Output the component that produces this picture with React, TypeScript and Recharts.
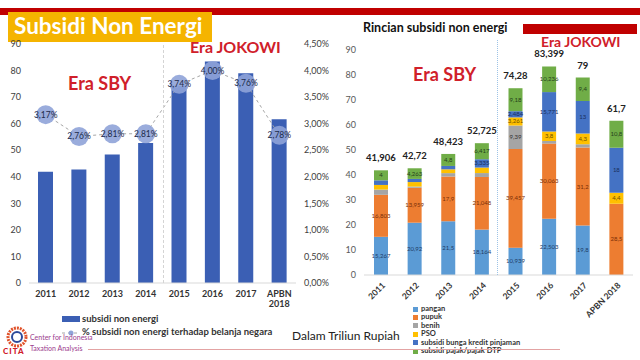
import React from "react";
import { ComposedChart, BarChart, Bar, Line, XAxis, YAxis, LabelList } from "recharts";

const years = ["2011", "2012", "2013", "2014", "2015", "2016", "2017", "APBN 2018"];
const totalSubsidi = [41.906, 42.72, 48.423, 52.725, 74.28, 83.399, 79, 61.7];
const persenBelanja = [3.17, 2.76, 2.81, 2.81, 3.74, 4.0, 3.76, 2.78];

// rincian per jenis subsidi (triliun rupiah)
const pangan = [15.267, 20.92, 21.5, 18.164, 10.939, 22.503, 19.8, 0];
const pupuk = [16.803, 13.959, 17.9, 21.048, 39.457, 30.063, 31.2, 28.5];
const benih = [2.1, 0.5, 1.354, 1.564, 9.39, 1.031, 1.3, 0];
const pso = [1.849, 1.795, 1.521, 2.197, 3.261, 3.8, 4.3, 4.4];
const bungaKredit = [1.856, 1.253, 1.348, 3.335, 2.484, 15.771, 13, 18];
const pajakDtp = [4, 4.263, 4.8, 6.417, 9.18, 10.236, 9.4, 10.8];

const leftTicks = [0, 10, 20, 30, 40, 50, 60, 70, 80, 90];
const pctTicks = [0, 0.5, 1, 1.5, 2, 2.5, 3, 3.5, 4, 4.5];

const leftRows = years.map((tahun, i) => ({
  tahun,
  subsidi: totalSubsidi[i],
  persen: persenBelanja[i],
}));

const rightRows = years.map((tahun, i) => ({
  tahun,
  pangan: pangan[i],
  pupuk: pupuk[i],
  benih: benih[i],
  pso: pso[i],
  bunga: bungaKredit[i],
  pajak: pajakDtp[i],
  total: totalSubsidi[i],
}));

const series = [
  { key: "pangan", name: "pangan", color: "#5b9bd5", text: "#1f3c66" },
  { key: "pupuk", name: "pupuk", color: "#ed7d31", text: "#7a2f08" },
  { key: "benih", name: "benih", color: "#a5a5a5", text: "#333333" },
  { key: "pso", name: "PSO", color: "#ffc000", text: "#6b4f00" },
  { key: "bunga", name: "subsidi bunga kredit pinjaman", color: "#4472c4", text: "#1a2f5c" },
  { key: "pajak", name: "subsidi pajak/pajak DTP", color: "#70ad47", text: "#24401a" },
];

const fmt = (v: number) => String(v).replace(".", ",");
const pct = (v: number) => v.toFixed(2).replace(".", ",") + "%";
const RED = "#d0202a";

const LeftTick = (p: any) => {
  const { x, y, payload } = p;
  const parts = String(payload.value).split(" ");
  return (
    <text x={x} y={y + 6} textAnchor="middle" fontSize={9} fontWeight={700} fill="#333">
      {parts.map((t, i) => (
        <tspan key={i} x={x} dy={i === 0 ? 0 : 10}>
          {t}
        </tspan>
      ))}
    </text>
  );
};

const RotTick = (p: any) => {
  const { x, y, payload } = p;
  const tx = x + 5;
  const ty = y + 3;
  return (
    <text x={tx} y={ty} transform={`rotate(-45 ${tx} ${ty})`} textAnchor="end" fontSize={8.5} fontWeight={700} fill="#333">
      {payload.value}
    </text>
  );
};

const pctDot = (p: any) => {
  const { cx, cy, index, value } = p;
  return (
    <g key={`dot-${index}`}>
      <circle cx={cx} cy={cy} r={9.5} fill="#8fa3d8" fillOpacity={0.9} />
      <text x={cx} y={cy + 3} textAnchor="middle" fontSize={8.5} fill="#1c2a4a">
        {pct(value)}
      </text>
    </g>
  );
};

const segLabel = (color: string) => (p: any) => {
  const { x, y, width, height, value } = p;
  if (!value || height < 6) return null;
  return (
    <text x={x + width / 2} y={y + height / 2 + 2} textAnchor="middle" fontSize={6} fill={color}>
      {fmt(value)}
    </text>
  );
};

const totalLabel = (p: any) => {
  const { x, y, width, value } = p;
  return (
    <text x={x + width / 2} y={y - 9} textAnchor="middle" fontSize={9.5} fontWeight={700} fill="#222">
      {fmt(value)}
    </text>
  );
};

const abs = (left: number, top: number, extra: React.CSSProperties = {}): React.CSSProperties => ({
  position: "absolute",
  left,
  top,
  ...extra,
});

export default function App() {
  return (
    <div
      style={{
        position: "absolute",
        left: 0,
        top: 0,
        width: 640,
        height: 360,
        background: "#fff",
        overflow: "hidden",
        fontFamily: "Lato, 'Open Sans', sans-serif",
      }}
    >
      {/* header */}
      <div style={abs(0, 8, { width: 640, height: 7, background: "#c00000" })} />
      <div style={abs(8, 12, { width: 204, height: 30, background: "#f5b400" })} />
      <div style={abs(14, 13, { height: 26, lineHeight: "26px", color: "#fff", fontSize: 22.5, fontWeight: 700 })}>
        Subsidi Non Energi
      </div>

      {/* left chart */}
      <div style={abs(0, 0)}>
        <ComposedChart width={340} height={320} data={leftRows} margin={{ top: 44, right: 0, left: 0, bottom: 0 }}>
          <XAxis dataKey="tahun" tick={<LeftTick />} axisLine={{ stroke: "#d9d9d9" }} tickLine={false} height={37} interval={0} />
          <YAxis yAxisId="left" domain={[0, 90]} ticks={leftTicks} width={29} axisLine={false} tickLine={false} tick={{ fontSize: 9, fill: "#404040" }} />
          <YAxis
            yAxisId="right"
            orientation="right"
            domain={[0, 4.5]}
            ticks={pctTicks}
            width={44}
            axisLine={false}
            tickLine={false}
            tick={{ fontSize: 9, fill: "#404040", textAnchor: "start" }}
            tickFormatter={(v: number) => pct(v)}
          />
          <Bar yAxisId="left" dataKey="subsidi" fill="#3b5fb4" barSize={15} isAnimationActive={false} />
          <Line
            yAxisId="right"
            dataKey="persen"
            stroke="#a6a6a6"
            strokeWidth={1}
            strokeDasharray="3 3"
            dot={pctDot}
            activeDot={false}
            isAnimationActive={false}
          />
        </ComposedChart>
      </div>
      <div style={abs(163, 45, { width: 0, height: 238, borderLeft: "1px dashed #d4d4d4" })} />
      <div style={abs(68, 72, { color: RED, fontSize: 18, fontWeight: 700 })}>Era SBY</div>
      <div style={abs(190, 37, { color: RED, fontSize: 16, fontWeight: 700 })}>Era JOKOWI</div>

      {/* left legend */}
      <div style={abs(62, 316, { width: 18, height: 6, background: "#3b5fb4" })} />
      <div style={abs(82, 313, { fontSize: 9.5, fontWeight: 700, color: "#333" })}>subsidi non energi</div>
      <svg style={abs(62, 329)} width={18} height={8}>
        <line x1={0} y1={4} x2={18} y2={4} stroke="#a6a6a6" strokeDasharray="3 3" />
        <circle cx={9} cy={4} r={2.5} fill="#8fa3d8" />
      </svg>
      <div style={abs(82, 326, { fontSize: 9.5, fontWeight: 700, color: "#333" })}>
        % subsidi non energi terhadap belanja negara
      </div>

      {/* right chart */}
      <div style={abs(363, 20, { fontSize: 12.5, fontWeight: 700, color: "#111" })}>Rincian subsidi non energi</div>
      <div style={abs(523, 24, { width: 114, height: 10, background: "#c00000" })} />
      <div style={abs(541, 35, { color: RED, fontSize: 14, fontWeight: 700, lineHeight: "14px" })}>Era JOKOWI</div>
      <div style={abs(330, 0)}>
        <BarChart width={310} height={335} data={rightRows} margin={{ top: 50, right: 7, left: 0, bottom: 0 }}>
          <XAxis dataKey="tahun" tick={<RotTick />} axisLine={{ stroke: "#d9d9d9" }} tickLine={false} height={60} interval={0} />
          <YAxis domain={[0, 90]} ticks={leftTicks} width={34} axisLine={false} tickLine={false} tick={{ fontSize: 9, fill: "#595959" }} />
          {series.map((s) => (
            <Bar key={s.key} dataKey={s.key} stackId="a" fill={s.color} barSize={14} isAnimationActive={false}>
              <LabelList dataKey={s.key} content={segLabel(s.text)} />
              {s.key === "pajak" ? <LabelList dataKey="total" content={totalLabel} /> : null}
            </Bar>
          ))}
        </BarChart>
      </div>
      <div style={abs(497, 40, { width: 0, height: 235, borderLeft: "1px dotted #9dc3e6" })} />
      <div style={abs(413, 63, { color: RED, fontSize: 18, fontWeight: 700 })}>Era SBY</div>

      {/* right legend */}
      {series.map((s, i) => (
        <div key={s.key} style={abs(413, 305 + i * 8.4, { display: "flex", alignItems: "center", height: 8 })}>
          <div style={{ width: 5, height: 5, background: s.color, marginRight: 3 }} />
          <div style={{ fontSize: 7.5, fontWeight: 700, color: "#333", lineHeight: "8px" }}>{s.name}</div>
        </div>
      ))}

      <div style={abs(292, 328, { fontSize: 12, color: "#222" })}>Dalam Triliun Rupiah</div>
      <div style={abs(88, 349, { width: 472, height: 1, background: "#e3a3a3" })} />

      {/* CITA logo */}
      <svg style={abs(4, 326)} width={26} height={22}>
        <circle cx={13} cy={11} r={9} fill="none" stroke="#e0522a" strokeWidth={3} strokeDasharray="2 1" />
        <circle cx={13} cy={11} r={5} fill="none" stroke="#2d4a9a" strokeWidth={2} />
      </svg>
      <div style={abs(3, 346, { fontSize: 8, fontWeight: 900, color: "#d0202a", letterSpacing: 1 })}>CITA</div>
      <div style={abs(30, 332, { fontSize: 7, color: "#9b3b8e", lineHeight: "11px" })}>
        Center for Indonesia
        <br />
        Taxation Analysis
      </div>
    </div>
  );
}
